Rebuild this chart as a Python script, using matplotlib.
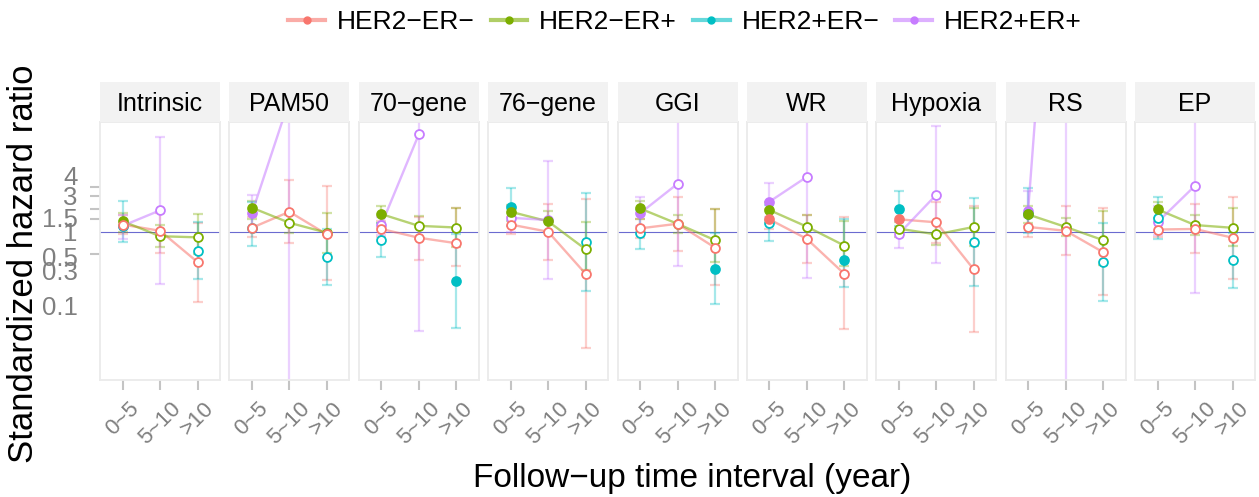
import numpy as np
import matplotlib
matplotlib.use("Agg")
import matplotlib.pyplot as plt
from matplotlib.lines import Line2D
from matplotlib.legend_handler import HandlerTuple
from matplotlib.ticker import FixedLocator, NullFormatter, FixedFormatter

plt.rcParams['font.family'] = ['Liberation Sans', 'DejaVu Sans']

nan = np.nan

signatures = ["Intrinsic", "PAM50", "70\u2212gene", "76\u2212gene", "GGI", "WR", "Hypoxia", "RS", "EP"]
intervals = ["0~5", "5~10", ">10"]
groups = ["HER2\u2212ER\u2212", "HER2\u2212ER+", "HER2+ER\u2212", "HER2+ER+"]
colors = ["#F8766D", "#7CAE00", "#00BFC4", "#C77CFF"]

# HER2-ER-
hr_nn = [[1.25, 1.03, 0.39], [1.13, 1.86, 0.92], [1.09, 0.83, 0.70], [1.25, 1.00, 0.27], [1.11, 1.28, 0.61],
         [1.47, 0.80, 0.27], [1.47, 1.34, 0.31], [1.16, 1.03, 0.53], [1.07, 1.09, 0.83]]
lo_nn = [[0.93, 0.51, 0.114], [0.86, 0.70, 0.22], [0.85, 0.42, 0.35], [0.93, 0.42, 0.027], [0.82, 0.55, 0.19],
         [1.10, 0.38, 0.049], [1.10, 0.70, 0.044], [0.85, 0.49, 0.14], [0.85, 0.52, 0.23]]
hi_nn = [[1.70, 1.77, 1.33], [1.60, 5.06, 4.10], [1.40, 1.60, 2.06], [1.59, 2.36, 2.73], [1.50, 2.96, 2.00],
         [2.00, 1.68, 1.56], [2.00, 2.50, 2.20], [1.60, 2.20, 2.10], [1.35, 2.40, 2.96]]
sig_nn = [[0, 0, 0], [0, 0, 0], [0, 0, 0], [0, 0, 0], [0, 0, 0], [1, 0, 0], [1, 0, 0], [0, 0, 0], [0, 0, 0]]

# HER2-ER+
hr_np = [[1.39, 0.87, 0.84], [2.11, 1.32, 0.97], [1.73, 1.20, 1.14], [1.86, 1.38, 0.58], [2.06, 1.28, 0.77],
         [1.96, 1.17, 0.65], [1.10, 0.92, 1.16], [1.71, 1.16, 0.77], [2.00, 1.23, 1.13]]
lo_np = [[1.00, 0.62, 0.50], [1.50, 0.95, 0.51], [1.30, 0.80, 0.63], [1.40, 1.00, 0.30], [1.50, 0.95, 0.39],
         [1.45, 0.80, 0.35], [0.85, 0.67, 0.64], [1.30, 0.88, 0.36], [1.55, 0.90, 0.65]]
hi_np = [[1.80, 1.23, 1.73], [2.60, 1.68, 1.80], [2.20, 1.63, 2.06], [2.30, 1.90, 1.35], [2.60, 1.68, 2.00],
         [2.50, 1.70, 1.40], [1.35, 1.30, 2.10], [2.20, 1.55, 1.90], [2.50, 1.70, 2.10]]
sig_np = [[1, 0, 0], [1, 0, 0], [1, 0, 0], [1, 1, 0], [1, 0, 0], [1, 0, 0], [0, 0, 0], [1, 0, 0], [1, 0, 0]]

# HER2+ER-
hr_pn = [[1.20, nan, 0.55], [1.13, nan, 0.46], [0.77, nan, 0.214], [2.17, nan, 0.72], [0.97, nan, 0.31],
         [1.32, nan, 0.42], [2.04, nan, 0.72], [1.74, nan, 0.39], [1.51, nan, 0.42]]
lo_pn = [[0.73, nan, 0.227], [0.65, nan, 0.19], [0.46, nan, 0.05], [1.20, nan, 0.157], [0.58, nan, 0.106],
         [0.74, nan, 0.178], [1.20, nan, 0.185], [0.95, nan, 0.117], [0.79, nan, 0.176]]
hi_pn = [[2.60, nan, 1.36], [2.54, nan, 1.10], [1.30, nan, 0.93], [3.83, nan, 3.36], [1.96, nan, 0.95],
         [2.30, nan, 1.50], [3.53, nan, 2.81], [3.84, nan, 1.32], [2.96, nan, 0.95]]
sig_pn = [[0, 0, 0], [0, 0, 0], [0, 0, 1], [1, 0, 0], [0, 0, 1], [0, 0, 1], [1, 0, 0], [0, 0, 0], [0, 0, 0]]

# HER2+ER+
hr_pp = [[1.20, 1.94, nan], [1.77, 60.0, nan], [1.23, 20.5, nan], [1.54, 1.44, nan], [1.77, 4.43, nan],
         [2.54, 5.50, nan], [0.93, 3.15, nan], [1.92, 1e7, nan], [1.34, 4.17, nan]]
lo_pp = [[0.80, 0.197, nan], [1.10, 0.001, nan], [0.90, 0.046, nan], [1.00, 0.23, nan], [1.20, 0.34, nan],
         [1.60, 0.235, nan], [0.61, 0.38, nan], [1.20, 0.001, nan], [0.90, 0.148, nan]]
hi_pp = [[1.70, 19.0, nan], [3.10, 1000, nan], [1.60, 1000, nan], [2.20, 9.0, nan], [2.90, 1000, nan],
         [4.57, 1000, nan], [1.40, 26.8, nan], [3.50, 1e8, nan], [2.20, 1000, nan]]
sig_pp = [[0, 0, 0], [1, 0, 0], [0, 0, 0], [0, 0, 0], [1, 0, 0], [1, 0, 0], [0, 0, 0], [1, 0, 0], [0, 0, 0]]

y_breaks = [0.1, 0.3, 0.5, 1, 1.5, 2, 3, 4]
y_label_pos = [0.1, 0.3, 0.47, 1, 1.56, 3.1, 5.8]
y_labels = ["0.1", "0.3", "0.5", "1", "1.5", "3", "4"]

series = [(hr_nn, lo_nn, hi_nn, sig_nn), (hr_np, lo_np, hi_np, sig_np),
          (hr_pn, lo_pn, hi_pn, sig_pn), (hr_pp, lo_pp, hi_pp, sig_pp)]

W, H = 1259, 497
fig = plt.figure(figsize=(W / 100, H / 100), dpi=100)

pw, gap = 120, 9.375
x = np.arange(1, 4)
for i, sig_name in enumerate(signatures):
    left = 100 + i * (pw + gap)
    ax = fig.add_axes([left / W, 1 - 380 / H, pw / W, 258 / H])
    st = fig.add_axes([left / W, 1 - 122 / H, pw / W, 40 / H])
    st.set_facecolor("#F2F2F2")
    st.set_xticks([]); st.set_yticks([])
    for s in st.spines.values():
        s.set_visible(False)
    st.text(0.5, 0.45, sig_name, ha="center", va="center", fontsize=18, transform=st.transAxes)

    ax.set_yscale("log")
    ax.axhline(1, color="#6B6BD0", lw=0.8, zorder=1)

    # error bars
    for g, (hr, lo, hi, sg) in enumerate(series):
        h = np.array(hr[i]); l = np.array(lo[i]); u = np.array(hi[i])
        ax.errorbar(x, h, yerr=[h - l, u - h], fmt="none", ecolor=colors[g], alpha=0.35,
                    elinewidth=1.6, capsize=3.8, capthick=1.6, zorder=2)
    # lines
    for g, (hr, lo, hi, sg) in enumerate(series):
        ax.plot(x, hr[i], color=colors[g], lw=1.7, alpha=0.55, zorder=3)
    # points, last group underneath
    for g in range(3, -1, -1):
        hr, lo, hi, sg = series[g]
        for k in range(3):
            if np.isnan(hr[i][k]):
                continue
            fc = colors[g] if sg[i][k] else "white"
            ax.plot(x[k], hr[i][k], "o", ms=6.4, mew=1.3, mec=colors[g], mfc=fc, zorder=4 + (3 - g))

    ax.set_xlim(0.4, 3.6)
    ax.set_ylim(0.01, 30.2)
    ax.set_xticks(x)
    ax.set_xticklabels(intervals, rotation=45, color="#7F7F7F", fontsize=16)
    ax.tick_params(axis="x", length=7, width=1.5, color="#C4C4C4", pad=6)
    ax.yaxis.set_minor_formatter(NullFormatter())
    if i == 0:
        ax.yaxis.set_major_locator(FixedLocator(y_label_pos))
        ax.yaxis.set_major_formatter(FixedFormatter(y_labels))
        ax.yaxis.set_minor_locator(FixedLocator(y_breaks))
        ax.tick_params(axis="y", which="major", length=0, pad=16, labelsize=18.5, labelcolor="#7F7F7F")
        ax.tick_params(axis="y", which="minor", length=7, width=1.5, color="#C4C4C4")
    else:
        ax.yaxis.set_major_locator(FixedLocator([]))
        ax.yaxis.set_minor_locator(FixedLocator([]))
    for s in ax.spines.values():
        s.set_color("#EBEBEB")
        s.set_linewidth(1.3)

handles = []
for c in colors:
    ln = Line2D([], [], color=c, lw=3, alpha=0.6)
    pt = Line2D([], [], color=c, marker="o", ms=5, lw=0)
    handles.append((ln, pt))
fig.legend(handles, groups, loc="center", bbox_to_anchor=(685 / W, 1 - 22 / H), ncol=4, frameon=False,
           fontsize=19, handlelength=1.4, handletextpad=0.45, columnspacing=0.6,
           handler_map={tuple: HandlerTuple(ndivide=1, pad=0)})

fig.text(692 / W, 1 - 478 / H, "Follow\u2212up time interval (year)", ha="center", va="center", fontsize=24)
fig.text(24 / W, 1 - 264 / H, "Standardized hazard ratio", ha="center", va="center", rotation=90, fontsize=25)

fig.savefig("out.png", dpi=100)
